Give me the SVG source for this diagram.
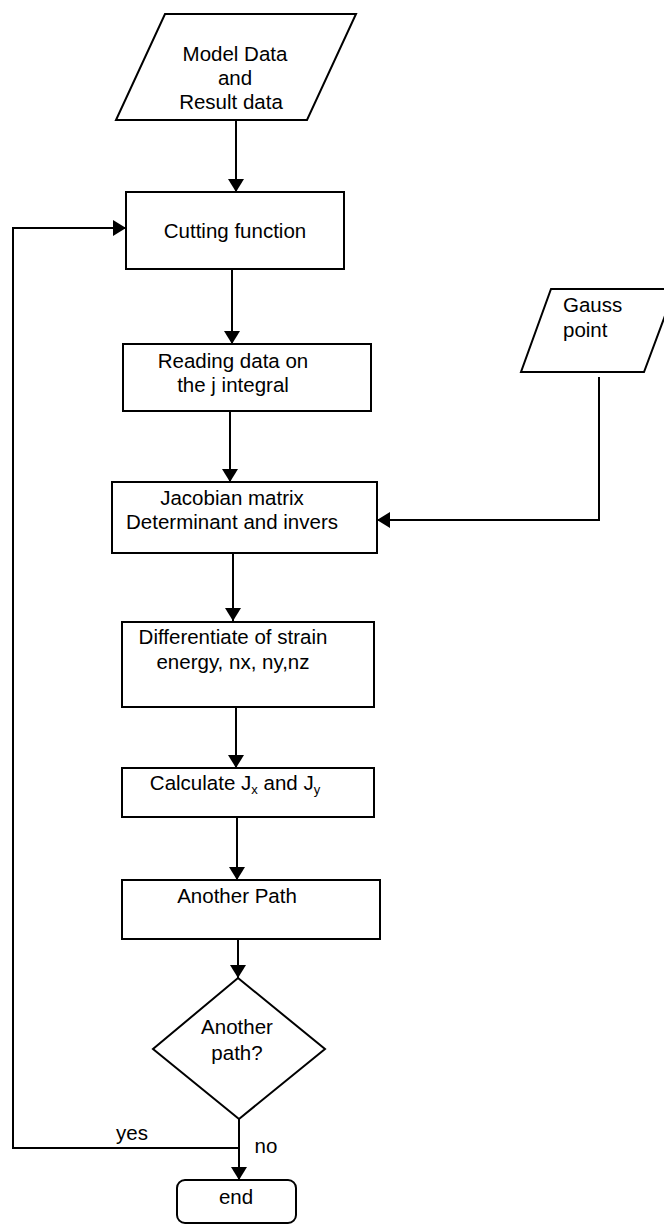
<svg xmlns="http://www.w3.org/2000/svg" width="664" height="1226" viewBox="0 0 664 1226">
<style>
.s{fill:#fff;stroke:#000;stroke-width:2}
.c{fill:none;stroke:#000;stroke-width:2}
text{font-family:"Liberation Sans",Arial,sans-serif;font-size:20.5px;fill:#000}
.m{text-anchor:middle}
</style>
<defs>
<marker id="ah" viewBox="0 0 13 16" refX="13" refY="8" markerWidth="13" markerHeight="16" orient="auto" markerUnits="userSpaceOnUse">
<path d="M0,0 L13,8 L0,16 Z" fill="#000"/>
</marker>
</defs>
<rect width="664" height="1226" fill="#fff"/>
<g id="connectors">
<line class="c" x1="236" y1="120" x2="236" y2="192" marker-end="url(#ah)"/>
<line class="c" x1="232" y1="269" x2="232" y2="344" marker-end="url(#ah)"/>
<line class="c" x1="230" y1="411" x2="230" y2="482" marker-end="url(#ah)"/>
<line class="c" x1="233" y1="553" x2="233" y2="621" marker-end="url(#ah)"/>
<line class="c" x1="236" y1="707" x2="236" y2="768" marker-end="url(#ah)"/>
<line class="c" x1="237" y1="817" x2="237" y2="880" marker-end="url(#ah)"/>
<line class="c" x1="238" y1="939" x2="238" y2="978" marker-end="url(#ah)"/>
<line class="c" x1="239" y1="1119" x2="239" y2="1180" marker-end="url(#ah)"/>
<polyline class="c" points="239,1148 13,1148 13,228 126,228" marker-end="url(#ah)"/>
<polyline class="c" points="599,377 599,520 377,520" marker-end="url(#ah)"/>
<text x="132" y="1140" class="m">yes</text>
<text x="266" y="1153" class="m">no</text>
</g>
<g id="model-data">
<polygon class="s" points="165,14 356,14 307,120 116,120"/>
<text x="235" y="61" class="m">Model Data</text>
<text x="235" y="85" class="m">and</text>
<text x="231" y="109" class="m">Result data</text>
</g>
<g id="cutting">
<rect class="s" x="126" y="192" width="218" height="77"/>
<text x="235" y="238" class="m">Cutting function</text>
</g>
<g id="reading">
<rect class="s" x="123" y="344" width="248" height="67"/>
<text x="233" y="368" class="m">Reading data on</text>
<text x="233" y="392" class="m">the j integral</text>
</g>
<g id="gauss">
<polygon class="s" points="551,289 675,289 644,372 521,372"/>
<text x="563" y="312">Gauss</text>
<text x="563" y="337">point</text>
</g>
<g id="jacobian">
<rect class="s" x="112" y="482" width="265" height="71"/>
<text x="232" y="505" class="m">Jacobian matrix</text>
<text x="232" y="529" class="m">Determinant and invers</text>
</g>
<g id="differentiate">
<rect class="s" x="122" y="622" width="252" height="85"/>
<text x="233" y="644" class="m">Differentiate of strain</text>
<text x="233" y="669" class="m">energy, nx, ny,nz</text>
</g>
<g id="calculate">
<rect class="s" x="122" y="768" width="252" height="49"/>
<text x="235" y="790" class="m">Calculate J<tspan font-size="13" dy="4">x</tspan><tspan dy="-4"> and J</tspan><tspan font-size="13" dy="4">y</tspan></text>
</g>
<g id="another-path">
<rect class="s" x="122" y="880" width="258" height="59"/>
<text x="237" y="903" class="m">Another Path</text>
</g>
<g id="decision">
<polygon class="s" points="238,978 325,1049 239,1119 153,1049"/>
<text x="237" y="1034" class="m">Another</text>
<text x="237" y="1060" class="m">path?</text>
</g>
<g id="end">
<rect class="s" x="177" y="1180" width="119" height="43" rx="8" ry="8"/>
<text x="236" y="1204" class="m">end</text>
</g>
</svg>
